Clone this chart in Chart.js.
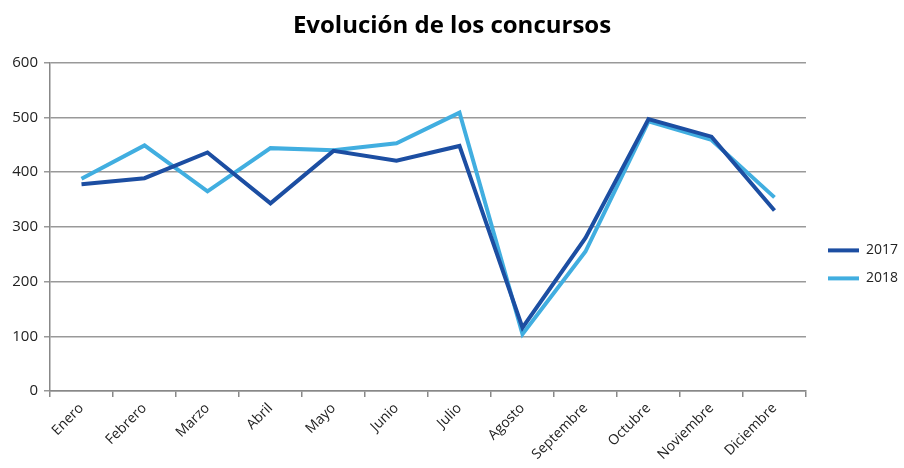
<!DOCTYPE html>
<html>
<head>
<meta charset="utf-8">
<script src="https://cdn.jsdelivr.net/npm/chart.js@4"></script>
<style>
  html, body { margin: 0; padding: 0; background: #fff; }
  #wrap { width: 904px; height: 468px; position: relative; }
</style>
</head>
<body>
<div id="wrap"><canvas id="chartLine"></canvas></div>
<script>
const months = ['Enero', 'Febrero', 'Marzo', 'Abril', 'Mayo', 'Junio', 'Julio', 'Agosto', 'Septembre', 'Octubre', 'Noviembre', 'Diciembre'];
const data2017 = [378, 389, 436, 343, 439, 421, 448, 116, 280, 497, 465, 330];
const data2018 = [388, 449, 365, 444, 440, 453, 509, 104, 255, 493, 459, 354];
const yTicks = [0, 100, 200, 300, 400, 500, 600];

const font = 'Open Sans';
const ctx = document.getElementById('chartLine').getContext('2d');

// nudge the legend a bit to the right, like the original
const legendShift = {
    id: 'legendShift',
    afterLayout(chart) {
        if (chart.legend) {
            chart.legend.left += 8;
            chart.legend.right += 8;
        }
    }
};

new Chart(ctx, {
    type: 'line',
    data: {
        labels: months,
        datasets: [
            { label: '2017', data: data2017, borderColor: '#1C4EA2', backgroundColor: '#1C4EA2', borderWidth: 4, pointRadius: 0, tension: 0 },
            { label: '2018', data: data2018, borderColor: '#41AEE0', backgroundColor: '#41AEE0', borderWidth: 4, pointRadius: 0, tension: 0 }
        ]
    },
    plugins: [legendShift],
    options: {
        responsive: true,
        maintainAspectRatio: false,
        animation: false,
        layout: { padding: { left: 4, right: 4, top: 0, bottom: 6 } },
        plugins: {
            title: {
                display: true,
                text: 'Evolución de los concursos',
                color: '#000',
                font: { family: font, size: 24, weight: 'bold' },
                padding: { top: 12, bottom: 22 }
            },
            legend: {
                position: 'right',
                align: 'center',
                title: { display: true, text: ' ', font: { size: 4 }, padding: { top: 0, bottom: 62 } },
                labels: {
                    boxWidth: 31,
                    boxHeight: 4,
                    padding: 14,
                    color: '#222',
                    font: { family: font, size: 14 },
                    generateLabels: chart => Chart.defaults.plugins.legend.labels.generateLabels(chart)
                        .map(item => Object.assign(item, { lineWidth: 0 }))
                }
            },
            tooltip: { enabled: false }
        },
        scales: {
            x: {
                offset: true,
                grid: { offset: true, drawOnChartArea: false, drawTicks: true, tickLength: 6, color: '#888', lineWidth: 1.5 },
                border: { color: '#888', width: 1.5 },
                ticks: { maxRotation: 45, minRotation: 45, color: '#222', font: { family: font, size: 14 } },
                afterFit: scale => { scale.height = 71; }
            },
            y: {
                min: 0,
                max: 600,
                afterBuildTicks: scale => { scale.ticks = yTicks.map(v => ({ value: v })); },
                grid: { color: '#999', lineWidth: 1.5, tickLength: 6 },
                border: { color: '#888', width: 1.5 },
                ticks: { color: '#222', font: { family: font, size: 15 }, padding: 6 },
                afterFit: scale => { scale.width = 46; }
            }
        }
    }
});
</script>
</body>
</html>
